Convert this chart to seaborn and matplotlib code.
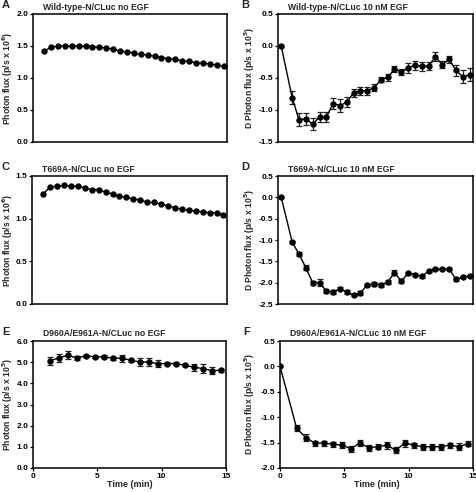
import numpy as np
import pandas as pd
import seaborn as sns
import matplotlib.pyplot as plt

# time points (min)
t_long = [0.86, 1.39, 1.93, 2.46, 3.0, 3.53, 4.06, 4.6, 5.13, 5.66, 6.2, 6.73, 7.26, 7.8,
          8.33, 8.86, 9.4, 9.93, 10.46, 11.0, 11.53, 12.06, 12.6, 13.13, 13.66, 14.2, 14.73]
t_long0 = [0.0] + t_long
t_short = [1.3, 2.0, 2.7, 3.4, 4.1, 4.8, 5.5, 6.2, 6.9, 7.6, 8.3, 9.0, 9.7, 10.4,
           11.1, 11.8, 12.5, 13.2, 13.9, 14.6]
t_short0 = [0.0] + t_short

wt_no_egf = [1.42, 1.48, 1.50, 1.50, 1.50, 1.50, 1.50, 1.49, 1.48, 1.47, 1.45, 1.42, 1.41, 1.39,
             1.37, 1.36, 1.34, 1.32, 1.30, 1.29, 1.27, 1.26, 1.24, 1.23, 1.22, 1.20, 1.18]

wt_egf = [0.0, -0.81, -1.15, -1.14, -1.22, -1.11, -1.11, -0.90, -0.93, -0.88, -0.73, -0.70,
          -0.70, -0.65, -0.53, -0.49, -0.36, -0.41, -0.34, -0.30, -0.32, -0.31, -0.17, -0.29,
          -0.21, -0.38, -0.48, -0.45]
wt_egf_err = [0.0, 0.10, 0.10, 0.10, 0.10, 0.08, 0.08, 0.08, 0.10, 0.08, 0.06, 0.06, 0.06, 0.06,
              0.04, 0.05, 0.04, 0.05, 0.08, 0.07, 0.07, 0.06, 0.07, 0.06, 0.06, 0.09, 0.10, 0.10]

t669_no_egf = [1.29, 1.37, 1.38, 1.39, 1.38, 1.38, 1.36, 1.34, 1.34, 1.31, 1.29, 1.26, 1.25, 1.23,
               1.22, 1.19, 1.19, 1.17, 1.15, 1.13, 1.11, 1.10, 1.09, 1.08, 1.07, 1.07, 1.04]

t669_egf = [0.0, -1.05, -1.33, -1.65, -2.0, -2.0, -2.2, -2.22, -2.14, -2.22, -2.29, -2.24, -2.05,
            -2.03, -2.05, -1.98, -1.77, -1.96, -1.78, -1.81, -1.85, -1.73, -1.68, -1.68, -1.68,
            -1.92, -1.87, -1.84]
t669_egf_err = [0.0, 0.03, 0.05, 0.06, 0.05, 0.08, 0.04, 0.05, 0.04, 0.04, 0.03, 0.04, 0.03, 0.05,
                0.04, 0.04, 0.06, 0.04, 0.03, 0.03, 0.03, 0.03, 0.03, 0.02, 0.03, 0.03, 0.03, 0.03]

dm_no_egf = [5.06, 5.20, 5.33, 5.20, 5.30, 5.25, 5.25, 5.19, 5.19, 5.09, 5.01, 5.01, 4.93, 4.93,
             4.93, 4.86, 4.76, 4.70, 4.60, 4.62]
dm_no_egf_err = [0.20, 0.20, 0.20, 0.08, 0.06, 0.06, 0.07, 0.07, 0.17, 0.07, 0.17, 0.17, 0.15, 0.07,
                 0.07, 0.06, 0.17, 0.20, 0.17, 0.08]

dm_egf = [0.0, -1.22, -1.40, -1.51, -1.51, -1.53, -1.55, -1.62, -1.51, -1.60, -1.58, -1.55, -1.65,
          -1.51, -1.55, -1.58, -1.58, -1.58, -1.55, -1.58, -1.52]
dm_egf_err = [0.0, 0.06, 0.07, 0.05, 0.05, 0.05, 0.06, 0.06, 0.06, 0.06, 0.05, 0.07, 0.06, 0.07,
              0.05, 0.06, 0.06, 0.06, 0.05, 0.07, 0.05]

sns.set_style("ticks")
plt.rcParams['font.family'] = ['Liberation Sans', 'DejaVu Sans']
plt.rcParams['font.weight'] = 'bold'

W, H = 477, 492
fig = plt.figure(figsize=(W / 100, H / 100), dpi=100)


def px_axes(l, t, r, b):
    return fig.add_axes([l / W, 1 - b / H, (r - l) / W, (b - t) / H])


panels = [
    # letter, title, x, y, err, box, ylim, yticks, ylabel, xlim, show x
    ("A", "Wild-type-N/CLuc no EGF", t_long, wt_no_egf, None, (33, 14, 227, 142),
     (0, 2.0), [0, 0.5, 1.0, 1.5, 2.0], "Photon flux (p/s x 10$^6$)", (0, 15), False),
    ("B", "Wild-type-N/CLuc 10 nM EGF", t_long0, wt_egf, wt_egf_err, (278, 14, 473, 142),
     (-1.5, 0.5), [-1.5, -1.0, -0.5, 0.0, 0.5], "D Photon flux (p/s x 10$^5$)", (-0.25, 15), False),
    ("C", "T669A-N/CLuc no EGF", t_long, t669_no_egf, None, (32, 176, 227, 304),
     (0, 1.5), [0, 0.5, 1.0, 1.5], "Photon flux (p/s x 10$^6$)", (0, 15), False),
    ("D", "T669A-N/CLuc 10 nM EGF", t_long0, t669_egf, t669_egf_err, (278, 176, 473, 304),
     (-2.5, 0.5), [-2.5, -2.0, -1.5, -1.0, -0.5, 0.0, 0.5], "D Photon flux (p/s x 10$^5$)", (-0.25, 15), False),
    ("E", "D960A/E961A-N/CLuc no EGF", t_short, dm_no_egf, dm_no_egf_err, (33, 341, 226, 468),
     (0, 6.0), [0, 1, 2, 3, 4, 5, 6], "Photon flux (p/s x 10$^5$)", (0, 15), True),
    ("F", "D960A/E961A-N/CLuc 10 nM EGF", t_short0, dm_egf, dm_egf_err, (280, 341, 473, 468),
     (-2.0, 0.5), [-2.0, -1.5, -1.0, -0.5, 0.0, 0.5], "D Photon flux (p/s x 10$^5$)", (0, 15), True),
]

fs = 6.0
fs_lab = 6.2
fs_title = 6.2
for letter, title, x, y, err, box, ylim, yticks, ylabel, xlim, showx in panels:
    l, t, r, b = box
    ax = px_axes(l, t, r, b)
    df = pd.DataFrame({"t": x, "v": y})
    if err is not None:
        ax.errorbar(x, y, yerr=err, fmt='none', ecolor='#222222', elinewidth=0.9,
                    capsize=2.4, capthick=0.9, zorder=2)
    sns.lineplot(data=df, x="t", y="v", ax=ax, color='black', linewidth=1.0,
                 marker='o', markersize=4.6, markeredgewidth=0, zorder=3)
    ax.set_xlim(*xlim)
    ax.set_ylim(*ylim)
    ax.set_yticks(yticks)
    ax.set_yticklabels([f"{v:.1f}" for v in yticks], fontsize=fs, fontweight='bold')
    ax.set_ylabel(ylabel, fontsize=fs_lab, fontweight='bold', va='center')
    label_x = 8 if l < 100 else 250
    ax.yaxis.set_label_coords((label_x - l) / (r - l), 0.5)
    if showx:
        ax.set_xticks([0, 5, 10, 15])
        ax.set_xticklabels(["0", "5", "10", "15"], fontsize=fs, fontweight='bold')
        ax.set_xlabel("Time (min)", fontsize=fs_lab + 0.3, fontweight='bold', labelpad=0)
    else:
        ax.set_xticks([])
        ax.set_xlabel("")
    ax.tick_params(length=2.5, width=0.9, pad=0.8, colors='black')
    for s in ax.spines.values():
        s.set_linewidth(1.1)
        s.set_color('black')
    fig.text((l - 31 if l < 100 else l - 37) / W, 1 - (t - 9) / H, letter,
             fontsize=8, fontweight='bold', ha='left', va='center')
    fig.text((l + 10) / W, 1 - (t - 7) / H, title, fontsize=fs_title, fontweight='bold',
             ha='left', va='center')

fig.savefig("out.png", dpi=100)
